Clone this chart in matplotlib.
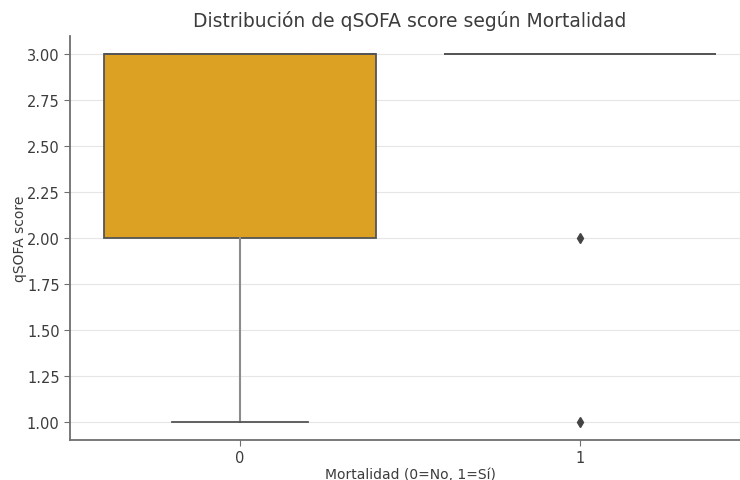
import matplotlib
matplotlib.use("Agg")
import matplotlib.pyplot as plt

# summary stats, one entry per group
groups = ["0", "1"]
q1 = [2.0, 3.0]
med = [3.0, 3.0]
q3 = [3.0, 3.0]
whislo = [1.0, 3.0]
whishi = [3.0, 3.0]
fliers = [[], [2.0, 1.0]]

box_color = "#DCA023"
line_color = "#555555"
text_color = "#3c3c3c"

fig = plt.figure(figsize=(7.4, 4.81), dpi=100)
ax = fig.add_axes([70 / 740, 40 / 481, 680 / 740, 404 / 481])

stats = []
for i in range(len(groups)):
    stats.append(dict(q1=q1[i], med=med[i], q3=q3[i], whislo=whislo[i],
                      whishi=whishi[i], fliers=fliers[i], label=groups[i]))

ax.bxp(stats, positions=range(len(groups)), widths=0.8, patch_artist=True,
       boxprops=dict(facecolor=box_color, edgecolor=line_color, linewidth=1.3),
       medianprops=dict(color=line_color, linewidth=1.3),
       whiskerprops=dict(color="#8c8c8c", linewidth=1.5),
       capprops=dict(color=line_color, linewidth=1.3),
       flierprops=dict(marker="d", markerfacecolor="#444444",
                       markeredgecolor="#444444", markersize=5))

ax.set_xlim(-0.5, 1.5)
ax.set_ylim(0.9, 3.1)
ax.set_yticks([1.0, 1.25, 1.5, 1.75, 2.0, 2.25, 2.5, 2.75, 3.0])
ax.set_yticklabels([f"{v:.2f}" for v in ax.get_yticks()])

ax.grid(axis="y", color="#e6e6e6", linewidth=0.8)
ax.set_axisbelow(True)
for s in ["top", "right"]:
    ax.spines[s].set_visible(False)
for s in ["left", "bottom"]:
    ax.spines[s].set_color("#6e6e6e")
    ax.spines[s].set_linewidth(1.3)
ax.tick_params(colors="#6e6e6e", labelcolor=text_color, labelsize=10.5, length=4)

ax.set_title("Distribución de qSOFA score según Mortalidad", fontsize=13.5,
             color=text_color, pad=7)
ax.set_xlabel("Mortalidad (0=No, 1=Sí)", fontsize=10, color=text_color, labelpad=1)
ax.set_ylabel("qSOFA score", fontsize=10, color=text_color, labelpad=0)

fig.savefig("out.png", dpi=100)
